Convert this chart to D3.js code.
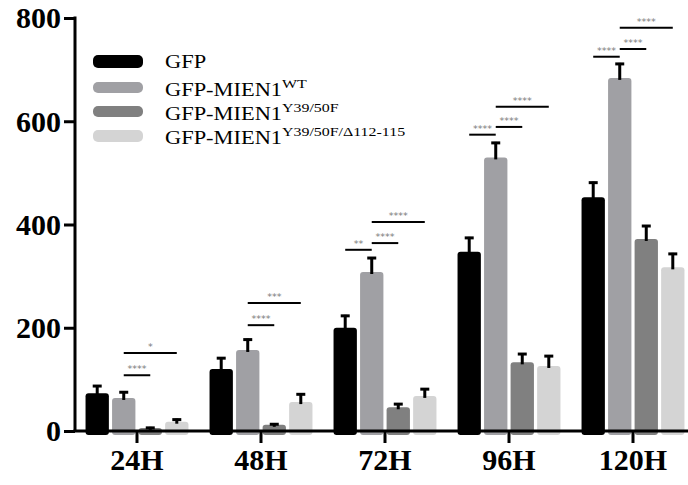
<!DOCTYPE html>
<html>
<head>
<meta charset="utf-8">
<script src="https://cdn.jsdelivr.net/npm/d3@7"></script>
<style>
  html, body { margin: 0; padding: 0; background: #fff; }
  svg { display: block; }
</style>
</head>
<body>
<svg id="chart" width="688" height="485"></svg>
<script>
// Time points on the x axis
const timepoints = ["24H", "48H", "72H", "96H", "120H"];

// Series: cell counts (mean) and upper error (SD)
const seriesKeys = ["GFP", "WT", "Y39", "DEL"];
const gfpValues = [73, 120, 200, 347, 453];
const gfpErrors = [16, 23, 25, 29, 30];
const wtValues = [64, 157, 308, 530, 684];
const wtErrors = [13, 22, 29, 30, 29];
const y39Values = [6, 12, 46, 133, 372];
const y39Errors = [2, 3, 8, 18, 27];
const delValues = [18, 56, 68, 126, 317];
const delErrors = [6, 17, 15, 21, 28];

// Legend labels: base text + superscript
const legendBase = ["GFP", "GFP-MIEN1", "GFP-MIEN1", "GFP-MIEN1"];
const legendSup = ["", "WT", "Y39/50F", "Y39/50F/\u0394112-115"];

// Y axis ticks
const yTicks = [0, 200, 400, 600, 800];

// Significance brackets: time point, compared series, stars, bracket level
const sigTime = ["24H", "24H", "48H", "48H", "72H", "72H", "72H", "96H", "96H", "96H", "120H", "120H", "120H"];
const sigFrom = ["WT", "WT", "WT", "WT", "GFP", "WT", "WT", "GFP", "WT", "WT", "GFP", "WT", "WT"];
const sigTo = ["Y39", "DEL", "Y39", "DEL", "WT", "Y39", "DEL", "WT", "Y39", "DEL", "WT", "Y39", "DEL"];
const sigStars = ["****", "*", "****", "***", "**", "****", "****", "****", "****", "****", "****", "****", "****"];
const sigLevel = [108, 151, 205, 248, 351, 364, 405, 574, 589, 628, 725, 740, 781];

const colors = { GFP: "#000000", WT: "#a0a0a4", Y39: "#808080", DEL: "#d4d4d4" };

const valueTable = { GFP: gfpValues, WT: wtValues, Y39: y39Values, DEL: delValues };
const errorTable = { GFP: gfpErrors, WT: wtErrors, Y39: y39Errors, DEL: delErrors };

const rows = timepoints.map((t, i) => ({
  t,
  bars: seriesKeys.map(k => ({ key: k, value: valueTable[k][i], err: errorTable[k][i] }))
}));

const svg = d3.select("#chart");
const plotLeft = 75, plotBottom = 431, plotTop = 18;

const y = d3.scaleLinear().domain([0, 800]).range([plotBottom, plotTop]);
const x0 = d3.scaleBand().domain(timepoints).range([plotLeft, 695])
  .paddingInner(0.17).paddingOuter(0.085);
const x1 = d3.scaleBand().domain(seriesKeys).range([0, x0.bandwidth()])
  .paddingInner(0.12).paddingOuter(0);

const serif = "'Liberation Serif', 'Times New Roman', serif";

// Bars
const groups = svg.append("g").selectAll("g").data(rows).join("g")
  .attr("transform", d => `translate(${x0(d.t)},0)`);

groups.selectAll("rect").data(d => d.bars).join("rect")
  .attr("x", d => x1(d.key))
  .attr("y", d => y(d.value))
  .attr("width", x1.bandwidth())
  .attr("height", d => y(0) - y(d.value) + 4)
  .attr("rx", 3)
  .attr("fill", d => colors[d.key]);

// Error bars (upper only)
const capW = 9;
groups.selectAll("g.err").data(d => d.bars).join("g").attr("class", "err")
  .each(function (d) {
    const g = d3.select(this);
    const cx = x1(d.key) + x1.bandwidth() / 2;
    g.append("line")
      .attr("x1", cx).attr("x2", cx)
      .attr("y1", y(d.value) + 2).attr("y2", y(d.value + d.err))
      .attr("stroke", "#000").attr("stroke-width", 3);
    g.append("line")
      .attr("x1", cx - capW / 2).attr("x2", cx + capW / 2)
      .attr("y1", y(d.value + d.err) + 1).attr("y2", y(d.value + d.err) + 1)
      .attr("stroke", "#000").attr("stroke-width", 3);
  });

// Significance brackets
const barCenter = (t, k) => x0(t) + x1(k) + x1.bandwidth() / 2;
const sig = svg.append("g");
sigTime.forEach((t, i) => {
  const xa = barCenter(t, sigFrom[i]);
  const xb = barCenter(t, sigTo[i]);
  const yy = y(sigLevel[i]);
  sig.append("line")
    .attr("x1", xa).attr("x2", xb).attr("y1", yy).attr("y2", yy)
    .attr("stroke", "#000").attr("stroke-width", 2);
  sig.append("text")
    .attr("x", (xa + xb) / 2).attr("y", yy - 3)
    .attr("text-anchor", "middle")
    .attr("font-family", "'DejaVu Sans', sans-serif")
    .attr("font-size", 9.5)
    .attr("fill", "#7a7a7a")
    .text(sigStars[i]);
});

// Y axis
const yAxis = d3.axisLeft(y).tickValues(yTicks).tickSize(11).tickPadding(3).tickFormat(d3.format("d"));
const yg = svg.append("g").attr("transform", `translate(${plotLeft},0)`).call(yAxis);
yg.select(".domain").attr("d", `M0,${plotTop - 1.5}V${plotBottom}`).attr("stroke", "#000").attr("stroke-width", 3);
yg.selectAll(".tick line").attr("stroke", "#000").attr("stroke-width", 3);
yg.selectAll(".tick text")
  .attr("font-family", serif).attr("font-weight", "bold").attr("font-size", 30)
  .attr("fill", "#000").attr("dy", "0.33em");

// X axis
const xAxis = d3.axisBottom(x0).tickSize(12).tickPadding(6);
const xg = svg.append("g").attr("transform", `translate(0,${plotBottom})`).call(xAxis);
xg.select(".domain").attr("d", `M${plotLeft - 1.5},0H688`).attr("stroke", "#000").attr("stroke-width", 3);
xg.selectAll(".tick line").attr("stroke", "#000").attr("stroke-width", 3);
xg.selectAll(".tick text")
  .attr("font-family", serif).attr("font-weight", "bold").attr("font-size", 30)
  .attr("fill", "#000");

// Legend (swatch rows; text is set slightly wide)
const swatchY = [55, 82, 106, 130];
const swatchH = [13, 11, 11, 12];
const textBase = [68, 96, 120, 144];
const legend = svg.append("g");
seriesKeys.forEach((k, i) => {
  legend.append("rect")
    .attr("x", 93).attr("y", swatchY[i]).attr("width", 50).attr("height", swatchH[i])
    .attr("rx", 5).attr("fill", colors[k]);
  const txt = legend.append("text")
    .attr("transform", `translate(165,${textBase[i]}) scale(1.18,1)`)
    .attr("font-family", serif).attr("font-size", 19).attr("fill", "#000");
  txt.append("tspan").text(legendBase[i]);
  if (legendSup[i]) {
    txt.append("tspan").attr("dy", -8).attr("font-size", 13.5).text(legendSup[i]);
  }
});
</script>
</body>
</html>
